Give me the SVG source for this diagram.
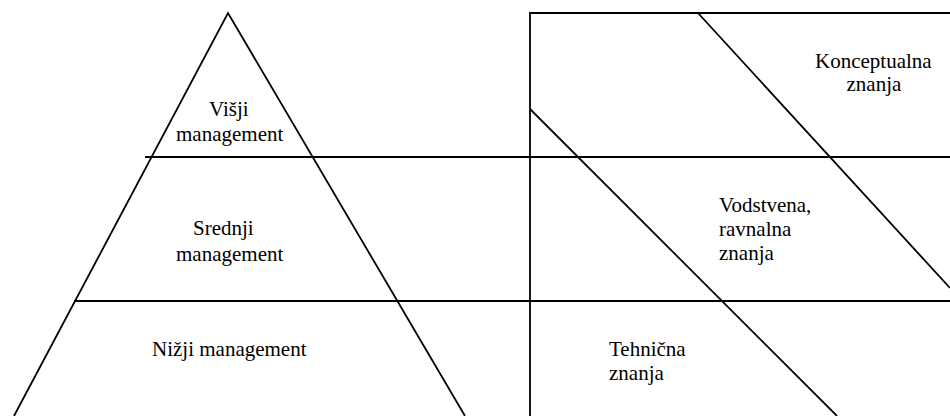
<svg xmlns="http://www.w3.org/2000/svg" width="950" height="416" viewBox="0 0 950 416">
<style>
.ln{stroke:#000;stroke-width:1.8;fill:none}
.t{font-family:'Liberation Serif','Times New Roman','DejaVu Serif',serif;font-size:21px;fill:#000}
</style>
<rect width="950" height="416" fill="#fff"/>
<g id="lines">
<path class="ln" d="M14,416 L228,13 L465,416"/>
<line class="ln" x1="145" y1="157" x2="950" y2="157"/>
<line class="ln" x1="74" y1="301" x2="950" y2="301"/>
<path class="ln" d="M530,416 L530,13 L950,13"/>
<line class="ln" x1="698" y1="13" x2="950" y2="288"/>
<line class="ln" x1="530" y1="109" x2="837" y2="416"/>
</g>
<g class="t" font-family="Liberation Serif, serif">
<g id="visji"><text x="209" y="115.5">Višji</text><text x="176" y="141">management</text></g>
<g id="srednji"><text x="193" y="235">Srednji</text><text x="176" y="260.5">management</text></g>
<g id="nizji"><text x="152" y="356">Nižji management</text></g>
<g id="konceptualna"><text x="815" y="68.3">Konceptualna</text><text x="846.5" y="90.7">znanja</text></g>
<g id="vodstvena"><text x="719" y="212">Vodstvena,</text><text x="719" y="236.3">ravnalna</text><text x="719" y="260.3">znanja</text></g>
<g id="tehnicna"><text x="609" y="355.7">Tehnična</text><text x="609" y="379.7">znanja</text></g>
</g>
</svg>
